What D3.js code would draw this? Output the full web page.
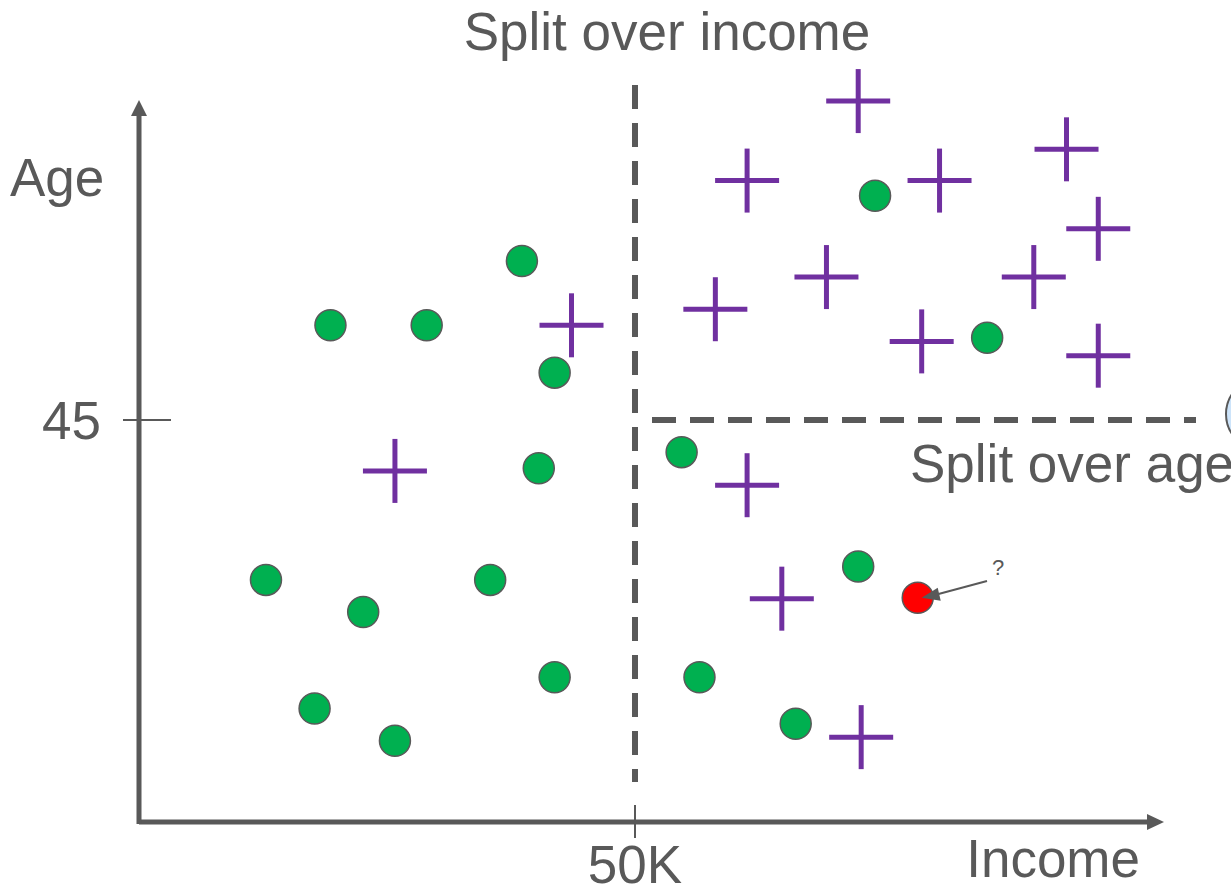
<!DOCTYPE html>
<html><head><meta charset="utf-8">
<script src="https://cdn.jsdelivr.net/npm/d3@7/dist/d3.min.js"></script>
<style>html,body{margin:0;padding:0;background:#fff;} svg{display:block;}</style>
</head><body>
<svg id="chart" width="1231" height="886"></svg>
<script>
// Data (income in K, age in years)
const greenIncome = [19.3, 29.0, 38.6, 41.9, 40.3, 12.8, 22.6, 35.4, 17.7, 25.8, 41.9, 54.7, 56.5, 66.2, 72.5, 74.2, 85.5];
const greenAge    = [55.6, 55.6, 62.8, 50.3, 39.6, 27.1, 23.5, 27.1, 12.7, 9.1, 16.2, 41.4, 16.2, 11.0, 28.6, 70.1, 54.2];
const crossIncome = [43.6, 25.8, 72.5, 61.3, 80.7, 93.5, 96.7, 69.3, 90.2, 58.1, 78.9, 96.7, 61.3, 64.8, 72.8];
const crossAge    = [55.6, 39.3, 80.7, 71.8, 71.8, 75.3, 66.4, 61.0, 61.0, 57.4, 53.8, 52.2, 37.7, 25.0, 9.5];
const queryIncome = [78.5];
const queryAge    = [25.1];
const xTicks = [50];
const xTickLabels = ["50K"];
const yTicks = [45];
const yTickLabels = ["45"];

const svg = d3.select("#chart");
const grey = "#595959";
const font = "Liberation Sans, Arial, sans-serif";

const x = d3.scaleLinear().domain([0, 100]).range([139, 1131]);
const y = d3.scaleLinear().domain([0, 90]).range([822, 18]);

// axes
svg.append("line").attr("x1", x(0)).attr("x2", 1150).attr("y1", y(0)).attr("y2", y(0))
  .attr("stroke", grey).attr("stroke-width", 5);
svg.append("path").attr("d", `M1147,${y(0)-8}L1164,${y(0)}L1147,${y(0)+8}Z`).attr("fill", grey);
svg.append("line").attr("x1", x(0)).attr("x2", x(0)).attr("y1", y(0)+2).attr("y2", 113)
  .attr("stroke", grey).attr("stroke-width", 5);
svg.append("path").attr("d", `M${x(0)-8},116L${x(0)},100L${x(0)+8},116Z`).attr("fill", grey);

// ticks
xTicks.forEach((t, i) => {
  svg.append("line").attr("x1", x(t)).attr("x2", x(t)).attr("y1", y(0)-17).attr("y2", y(0)+16)
    .attr("stroke", grey).attr("stroke-width", 2);
  svg.append("text").attr("x", x(t)).attr("y", 883).attr("text-anchor", "middle")
    .attr("font-family", font).attr("font-size", 53).attr("fill", grey).text(xTickLabels[i]);
});
yTicks.forEach((t, i) => {
  svg.append("line").attr("x1", x(0)-16).attr("x2", x(0)+32).attr("y1", y(t)).attr("y2", y(t))
    .attr("stroke", grey).attr("stroke-width", 2);
  svg.append("text").attr("x", 101).attr("y", y(t)+19).attr("text-anchor", "end")
    .attr("font-family", font).attr("font-size", 53).attr("fill", grey).text(yTickLabels[i]);
});

// axis titles
svg.append("text").attr("x", 10).attr("y", 196).attr("font-family", font).attr("font-size", 53)
  .attr("fill", grey).text("Age");
svg.append("text").attr("x", 1140).attr("y", 877).attr("text-anchor", "end").attr("font-family", font)
  .attr("font-size", 53).attr("fill", grey).text("Income");

// split lines
svg.append("line").attr("x1", x(50)).attr("x2", x(50)).attr("y1", 85).attr("y2", 782)
  .attr("stroke", grey).attr("stroke-width", 6).attr("stroke-dasharray", "24,14");
svg.append("line").attr("x1", 652).attr("x2", 1196).attr("y1", y(45)).attr("y2", y(45))
  .attr("stroke", grey).attr("stroke-width", 6).attr("stroke-dasharray", "24,14");
svg.append("text").attr("x", 667).attr("y", 50).attr("text-anchor", "middle").attr("font-family", font)
  .attr("font-size", 53).attr("fill", grey).text("Split over income");
svg.append("text").attr("x", 910).attr("y", 482).attr("font-family", font)
  .attr("font-size", 53).attr("fill", grey).text("Split over age");

// partial light-blue circle at right edge
svg.append("circle").attr("cx", 1262).attr("cy", 414).attr("r", 36)
  .attr("fill", "#cde4fa").attr("stroke", grey).attr("stroke-width", 2);

// green points
svg.append("g").selectAll("circle").data(greenIncome).join("circle")
  .attr("cx", d => x(d)).attr("cy", (d, i) => y(greenAge[i])).attr("r", 15.5)
  .attr("fill", "#00b050").attr("stroke", grey).attr("stroke-width", 1.5);

// crosses
const cg = svg.append("g").attr("stroke", "#7030a0").attr("stroke-width", 5);
crossIncome.forEach((d, i) => {
  const cx = x(d), cy = y(crossAge[i]);
  cg.append("line").attr("x1", cx-32).attr("x2", cx+32).attr("y1", cy).attr("y2", cy);
  cg.append("line").attr("x1", cx).attr("x2", cx).attr("y1", cy-32).attr("y2", cy+32);
});

// query point
svg.append("g").selectAll("circle").data(queryIncome).join("circle")
  .attr("cx", d => x(d)).attr("cy", (d, i) => y(queryAge[i])).attr("r", 15.5)
  .attr("fill", "#ff0000").attr("stroke", grey).attr("stroke-width", 1.5);

// annotation arrow
const qx = x(queryIncome[0]), qy = y(queryAge[0]);
svg.append("line").attr("x1", 987).attr("y1", 581).attr("x2", qx+18).attr("y2", qy-3)
  .attr("stroke", grey).attr("stroke-width", 2);
svg.append("path").attr("d", `M${qx+4},${qy}L${qx+20},${qy-10}L${qx+23},${qy+3}Z`).attr("fill", grey);
svg.append("text").attr("x", 998).attr("y", 575).attr("text-anchor", "middle").attr("font-family", font)
  .attr("font-size", 22).attr("fill", grey).text("?");
</script>
</body></html>
